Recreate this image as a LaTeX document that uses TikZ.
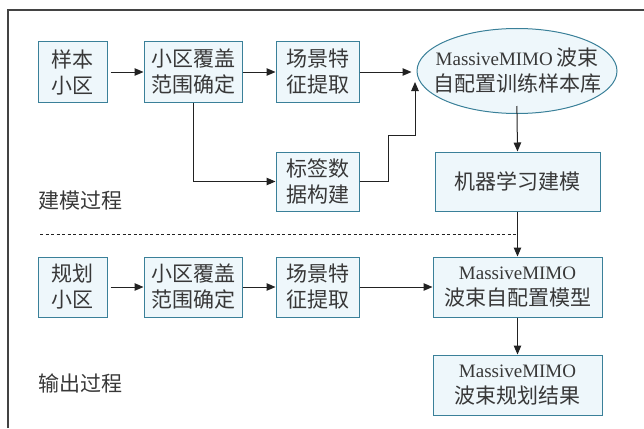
\documentclass[tikz,border=0pt]{standalone}
\usepackage{fontspec}
\usetikzlibrary{arrows.meta,shapes.geometric}
\newfontfamily\cjk{Noto Sans CJK SC}
\newfontfamily\latinf{Liberation Serif}
\definecolor{boxline}{HTML}{3A8099}
\definecolor{boxfill}{HTML}{EEF7FB}
\definecolor{txt}{HTML}{383838}
\definecolor{ln}{HTML}{222222}
\newcommand\mimo{{\latinf\fontsize{19}{26}\selectfont MassiveMIMO}}
\tikzset{
  cjkfont/.style={font={\cjk\fontsize{21}{26}\selectfont}},
  blk/.style={draw=boxline, fill=boxfill, line width=1pt, text=txt, align=center,
    inner sep=2pt, cjkfont},
  oval/.style={draw=boxline, fill=boxfill, line width=1pt, ellipse, inner sep=0pt},
  lbl/.style={text=txt, anchor=west, inner sep=0pt, cjkfont},
  conn/.style={draw=ln, line width=1pt, -{Triangle[length=9pt,width=7.5pt]}},
}
\begin{document}
\begin{tikzpicture}[x=1pt,y=-1pt]
\useasboundingbox (0,0) rectangle (644,428);
% frame
\draw[line width=1.2pt, draw=ln!85] (8,428) -- (8,10) -- (644,10);
% top row
\node[blk, minimum width=69pt, minimum height=60pt] (s1) at (72.5,72) {样本\\小区};
\node[blk, minimum width=98pt, minimum height=60pt] (s2) at (193,72) {小区覆盖\\范围确定};
\node[blk, minimum width=83pt, minimum height=60pt] (s3) at (317.5,72) {场景特\\征提取};
\node[blk, minimum width=83pt, minimum height=59pt] (lab) at (317.5,181.5) {标签数\\据构建};
\node[oval, minimum width=200pt, minimum height=85pt,
  label={[text=txt, align=center, inner sep=0pt, cjkfont]center:\mimo\,波束\\自配置训练样本库}] (ell) at (517,71) {};
\node[blk, minimum width=165pt, minimum height=59pt] (ml) at (517.5,181.5) {机器学习建模};
\node[lbl] (t1) at (38,201) {建模过程};
% bottom row
\node[blk, minimum width=69pt, minimum height=60pt] (p1) at (72.5,287) {规划\\小区};
\node[blk, minimum width=98pt, minimum height=60pt] (p2) at (193,287) {小区覆盖\\范围确定};
\node[blk, minimum width=83pt, minimum height=60pt] (p3) at (317.5,287) {场景特\\征提取};
\node[blk, minimum width=169pt, minimum height=60pt] (mod) at (517.5,287) {\mimo\\波束自配置模型};
\node[blk, minimum width=169pt, minimum height=60pt] (res) at (517.5,385) {\mimo\\波束规划结果};
\node[lbl] (t2) at (38,383) {输出过程};
% dashed separator
\coordinate (d1) at (40,234);
\coordinate (d2) at (517.5,234);
\draw[draw=ln, line width=0.8pt, dash pattern=on 3pt off 2.5pt] (d1) -- (d2);
% connectors top
\draw[conn, shorten <=3pt] (s1.east) -- (s2.west);
\draw[conn] (s2.east) -- (s3.west);
\draw[conn, shorten >=5pt] (s3.east) -- (ell.west |- s3.east);
\draw[conn] (s2.south) |- (lab.west);
\coordinate (lt) at (415,82);
\draw[conn] (lab.east) -- (388,181.5) -- (388,135) -- (415,135) -- (lt);
\draw[conn, shorten <=-8pt] (ell.south) -- (ml.north);
\draw[conn] (ml.south) -- (mod.north);
% connectors bottom
\draw[conn, shorten <=3pt] (p1.east) -- (p2.west);
\draw[conn] (p2.east) -- (p3.west);
\draw[conn] (p3.east) -- (mod.west);
\draw[conn] (mod.south) -- (res.north);
\end{tikzpicture}
\end{document}
